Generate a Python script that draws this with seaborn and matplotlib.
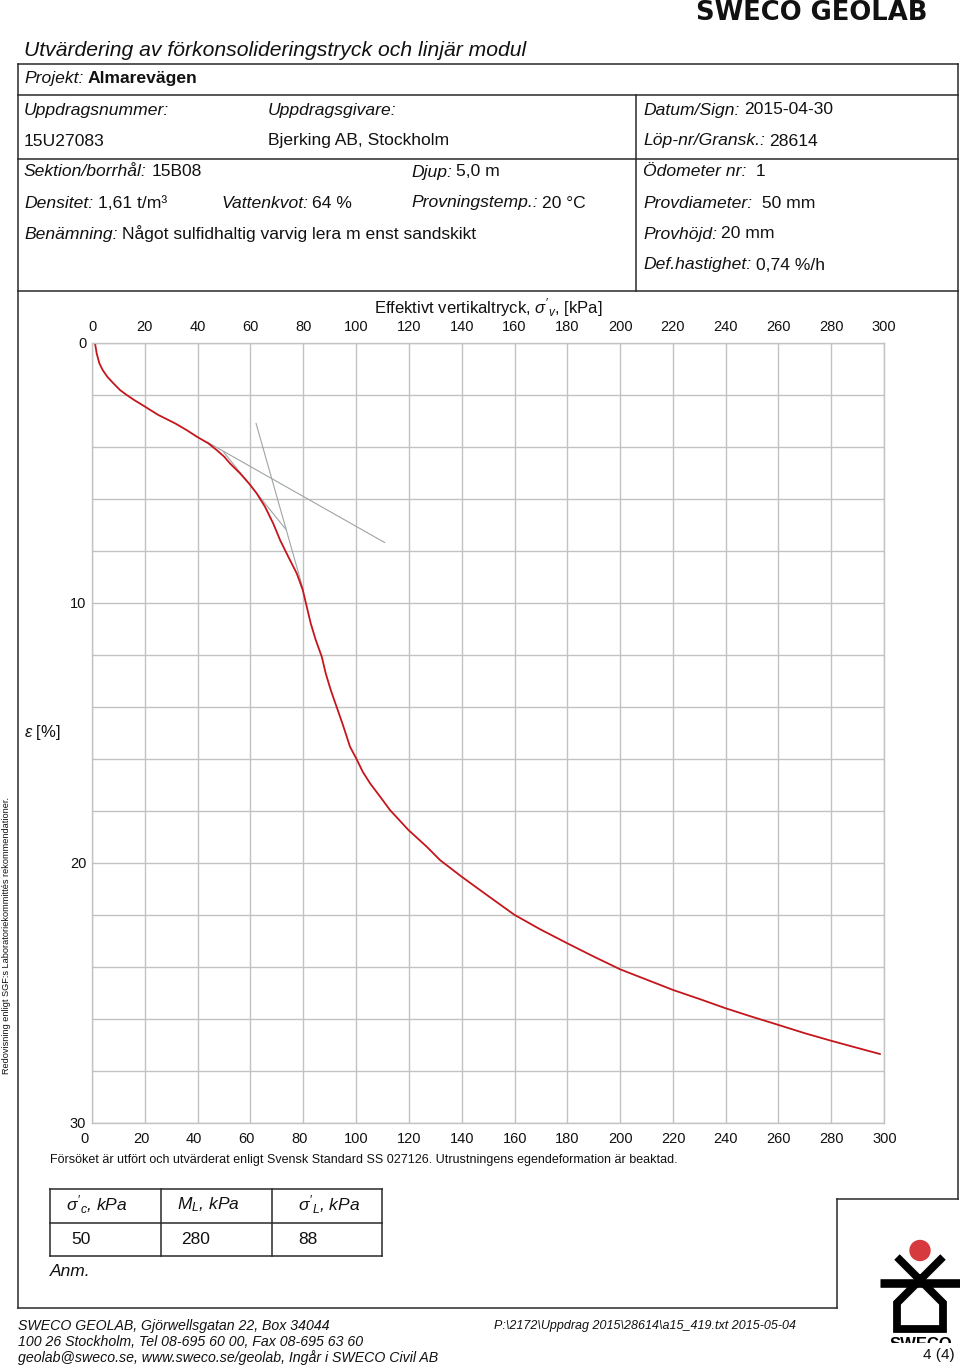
import numpy as np
import pandas as pd
import matplotlib
matplotlib.use("Agg")
import matplotlib.pyplot as plt
from matplotlib.transforms import ScaledTranslation, Bbox, TransformedBbox
from matplotlib.patches import Circle
import seaborn as sns

# ---------------- data ----------------
stress = [1.10, 1.73, 2.74, 4.0, 5.77, 8.04, 10.57, 13.09, 15.87, 20.04, 25.09,
          31.4, 35.8, 39.6, 44.0, 47.2, 50.0, 52.2, 56.0, 59.4, 62.3, 65.5, 68.6,
          71.2, 74.3, 77.5, 79.8, 81.3, 82.8, 84.7, 87.0, 88.5, 90.4, 92.6, 94.8,
          97.7, 100.0, 102.5, 105.3, 109.1, 112.8, 119.8, 126.7, 131.8, 140.0,
          149.5, 159.9, 169.7, 180.0, 189.8, 200.0, 210.1, 220.2, 230.3, 240.0,
          249.8, 260.0, 270.0, 280.0, 289.0, 298.5]
strain = [0.02, 0.41, 0.79, 1.05, 1.31, 1.56, 1.82, 2.01, 2.20, 2.46, 2.78,
          3.10, 3.36, 3.61, 3.87, 4.13, 4.38, 4.64, 5.02, 5.41, 5.79, 6.31, 6.95,
          7.59, 8.23, 8.87, 9.51, 10.15, 10.79, 11.43, 12.08, 12.72, 13.36, 14.0, 14.64,
          15.54, 15.98, 16.5, 16.95, 17.46, 17.97, 18.74, 19.38, 19.9, 20.54,
          21.24, 22.0, 22.56, 23.1, 23.6, 24.1, 24.5, 24.9, 25.25, 25.6,
          25.92, 26.24, 26.56, 26.85, 27.1, 27.36]

tanA_x = [43.4, 110.9]
tanA_y = [3.81, 7.69]
tanB_x = [62.1, 80.0]
tanB_y = [3.10, 9.51]
tanC_x = [49.7, 73.4]
tanC_y = [4.19, 7.18]

x_ticks = list(range(0, 301, 20))
x_ticklabels = [str(v) for v in x_ticks]
y_ticks = list(range(0, 31, 2))
y_ticklabels = [str(v) if v % 10 == 0 else "" for v in y_ticks]

table_headers = [r"$\sigma'_{c}$, kPa", r"$M_{L}$, kPa", r"$\sigma'_{L}$, kPa"]
table_values = ["50", "280", "88"]

# ---------------- style ----------------
sns.set_theme(style="white")
plt.rcParams["font.family"] = ["Liberation Sans", "DejaVu Sans"]
plt.rcParams["mathtext.fontset"] = "custom"
plt.rcParams["mathtext.rm"] = "Liberation Sans"
plt.rcParams["mathtext.it"] = "Liberation Sans:italic"
plt.rcParams["mathtext.bf"] = "Liberation Sans:bold"
plt.rcParams["mathtext.fallback"] = "cm"

W, H = 960, 1369
fig = plt.figure(figsize=(W / 100, H / 100), dpi=100)
fig.patch.set_facecolor("white")

bg = fig.add_axes([0, 0, 1, 1])
bg.set_xlim(0, W)
bg.set_ylim(H, 0)
bg.axis("off")
bg.patch.set_alpha(0)

FR = "#2a2a2a"
TC = "#111111"


def hline(y, x1, x2, lw=1.1, c=FR):
    bg.plot([x1, x2], [y, y], color=c, lw=lw, solid_capstyle="projecting")


def vline(x, y1, y2, lw=1.1, c=FR):
    bg.plot([x, x], [y1, y2], color=c, lw=lw, solid_capstyle="projecting")


# frame
hline(63.5, 18, 958)
hline(94.5, 18, 958)
hline(159, 18, 958)
hline(291, 18, 958)
vline(636, 94.5, 291)
vline(18, 63.5, 1308)
vline(958, 63.5, 1198.5)
hline(1198.5, 837, 958)
vline(837, 1198.5, 1308)
hline(1308, 18, 837)

# brand / title
bg.text(928, 19.5, "SWECO GEOLAB", ha="right", va="baseline", fontsize=18.6,
        fontweight="heavy", family=["DejaVu Sans"], color=TC)
bg.text(24, 50, "Utvärdering av förkonsolideringstryck och linjär modul",
        ha="left", va="center", fontsize=15.2, style="italic", color=TC)

HS = 12.6


def lv(x, y, label, value=None, bold=False, size=HS):
    t = bg.text(x, y, label, style="italic", ha="left", va="center",
                fontsize=size, color=TC)
    if value is not None:
        bg.annotate(value, xy=(1, 0.5), xycoords=t, xytext=(3.2, 0),
                    textcoords="offset points", ha="left", va="center",
                    fontsize=size, color=TC,
                    fontweight="bold" if bold else "normal")
    return t


lv(24, 79, "Projekt:", "Almarevägen", bold=True)
lv(24, 110, "Uppdragsnummer:")
lv(268, 110, "Uppdragsgivare:")
lv(643, 110, "Datum/Sign:", "2015-04-30")
bg.text(24, 141, "15U27083", ha="left", va="center", fontsize=HS, color=TC)
bg.text(268, 141, "Bjerking AB, Stockholm", ha="left", va="center", fontsize=HS, color=TC)
lv(643, 141, "Löp-nr/Gransk.:", "28614")
lv(24, 172, "Sektion/borrhål:", "15B08")
lv(411, 172, "Djup:", "5,0 m")
lv(643, 172, "Ödometer nr:", " 1")
lv(24, 203, "Densitet:", "1,61 t/m³")
lv(221, 203, "Vattenkvot:", "64 %")
lv(411, 203, "Provningstemp.:", "20 °C")
lv(643, 203, "Provdiameter:", " 50 mm")
lv(24, 234, "Benämning:", "Något sulfidhaltig varvig lera m enst sandskikt")
lv(643, 234, "Provhöjd:", "20 mm")
lv(643, 265, "Def.hastighet:", "0,74 %/h")

# side text
bg.text(7, 935, "Redovisning enligt SGF:s Laboratoriekommittés rekommendationer.",
        rotation=90, ha="center", va="center", fontsize=6.6, color=TC)

# footnote
bg.text(50, 1160, "Försöket är utfört och utvärderat enligt Svensk Standard SS 027126. "
        "Utrustningens egendeformation är beaktad.", ha="left", va="center",
        fontsize=9.0, color=TC)

# table
tx = [49.5, 160.7, 271.7, 382.3]
ty = [1189, 1222.5, 1256]
for yy in ty:
    hline(yy, tx[0], tx[-1])
for xx in tx:
    vline(xx, ty[0], ty[-1])
hdr_x = [66, 177, 298]
val_x = [71, 181, 298]
for hx, h in zip(hdr_x, table_headers):
    bg.text(hx, 1205, h, ha="left", va="center", fontsize=12.5, style="italic", color=TC)
for vx, v in zip(val_x, table_values):
    bg.text(vx, 1240, v, ha="left", va="center", fontsize=12.5, color=TC)
bg.text(50, 1271, "Anm.", ha="left", va="center", fontsize=12.5, style="italic", color=TC)

# footer
for yy, s in zip([1326, 1342, 1358],
                 ["SWECO GEOLAB, Gjörwellsgatan 22, Box 34044",
                  "100 26 Stockholm, Tel 08-695 60 00, Fax 08-695 63 60",
                  "geolab@sweco.se, www.sweco.se/geolab, Ingår i SWECO Civil AB"]):
    bg.text(18, yy, s, ha="left", va="center", fontsize=10.2, style="italic", color=TC)
bg.text(494, 1326, r"P:\2172\Uppdrag 2015\28614\a15_419.txt 2015-05-04", ha="left",
        va="center", fontsize=9, style="italic", color=TC)
bg.text(955, 1355, "4 (4)", ha="right", va="center", fontsize=11, color=TC)

# logo
bg.add_patch(Circle((920, 1250.5), 10, color="#d63a3f", zorder=3))
bg.plot([897, 943, 943, 897, 897, 943], [1257, 1303, 1329, 1329, 1303, 1257],
        color="black", lw=5.6, solid_joinstyle="miter", solid_capstyle="butt")
bg.plot([880, 960], [1282.5, 1282.5], color="black", lw=6.2, solid_capstyle="butt")
st = bg.text(921, 1349, "SWECO", ha="center", va="baseline", fontsize=12,
             fontweight="bold", color="black")
st.set_clip_on(True)
st.set_clip_box(TransformedBbox(Bbox([[860, 1300], [960, 1343]]), bg.transData))

# ---------------- chart ----------------
L, R, T, B = 92.1, 884.1, 342.7, 1122.7
ax = fig.add_axes([L / W, 1 - B / H, (R - L) / W, (B - T) / H])
ax.set_facecolor("white")

curve = pd.DataFrame({"stress": stress, "strain": strain})
GR = "#a0a4a4"
for tx_, ty_ in [(tanA_x, tanA_y), (tanB_x, tanB_y), (tanC_x, tanC_y)]:
    sns.lineplot(data=pd.DataFrame({"x": tx_, "y": ty_}), x="x", y="y",
                 sort=False, estimator=None, color=GR, lw=0.8, ax=ax)
sns.lineplot(data=curve, x="stress", y="strain", sort=False, estimator=None,
             color="#c4161c", lw=1.3, ax=ax)

ax.set_xlim(0, 300)
ax.set_ylim(30, 0)
ax.set_xticks(x_ticks)
ax.set_xticklabels(x_ticklabels)
ax.set_yticks(y_ticks)
ax.set_yticklabels(y_ticklabels)
ax.grid(True, color="#c2c2c2", lw=1.0)
for sp in ax.spines.values():
    sp.set_color("#c2c2c2")
    sp.set_linewidth(1.0)

ax.tick_params(axis="x", top=True, labeltop=True, bottom=True, labelbottom=True,
               length=0, pad=6.5, labelsize=10.5, labelcolor=TC)
ax.tick_params(axis="y", left=True, labelleft=True, length=0, pad=4.3,
               labelsize=10.5, labelcolor=TC)

ax.xaxis.set_label_position("top")
ax.set_xlabel(r"Effektivt vertikaltryck, $\sigma'_{v}$, [kPa]", fontsize=12,
              labelpad=4.5, color=TC)
ax.set_ylabel(r"$\varepsilon$ [%]", fontsize=12, rotation=0, color=TC,
              ha="center", va="center")
ax.yaxis.set_label_coords((42 - L) / (R - L), 0.5)

# bottom tick labels are left-aligned slightly left of the grid line
off = ScaledTranslation(-12 / 100, 0, fig.dpi_scale_trans)
for tk in ax.xaxis.get_major_ticks():
    tk.label1.set_horizontalalignment("left")
    tk.label1.set_transform(tk.label1.get_transform() + off)

fig.savefig("out.png", dpi=100, facecolor="white")
